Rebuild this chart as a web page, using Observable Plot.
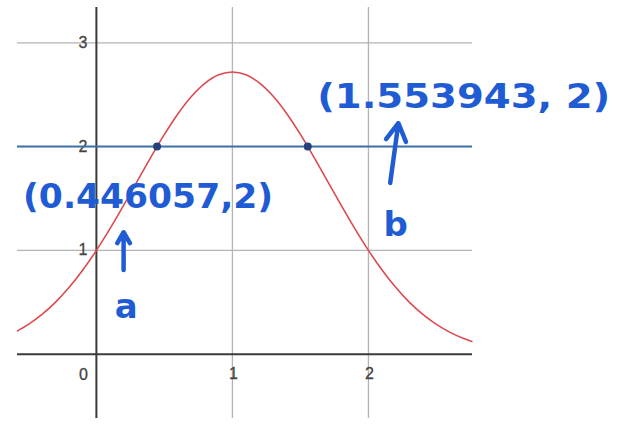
<!DOCTYPE html>
<html>
<head>
<meta charset="utf-8">
<script src="https://cdn.jsdelivr.net/npm/d3@7"></script>
<script src="https://cdn.jsdelivr.net/npm/@observablehq/plot@0.6"></script>
<style>
  html, body { margin: 0; padding: 0; background: #fff; }
  #chart svg { display: block; overflow: visible; }
</style>
</head>
<body>
<div id="chart"></div>
<script>
// y = e^(2x - x^2), sampled along x
const curveX = [-0.58, -0.5, -0.4, -0.3, -0.2, -0.1, 0, 0.1, 0.2, 0.3, 0.4, 0.5, 0.6, 0.7, 0.8, 0.9,
  1.0, 1.1, 1.2, 1.3, 1.4, 1.5, 1.6, 1.7, 1.8, 1.9, 2.0, 2.1, 2.2, 2.3, 2.4, 2.5, 2.6, 2.7, 2.76];
const curveY = [0.2239, 0.2865, 0.3829, 0.5016, 0.6440, 0.8106, 1, 1.2092, 1.4333, 1.6653, 1.8965, 2.1170, 2.3164, 2.4843, 2.6117, 2.6912,
  2.7183, 2.6912, 2.6117, 2.4843, 2.3164, 2.1170, 1.8965, 1.6653, 1.4333, 1.2092, 1, 0.8106, 0.6440, 0.5016, 0.3829, 0.2865, 0.2101, 0.1511, 0.1227];

// horizontal line y = 2 and its two intersections with the curve
const levelY = 2;
const hitX = [0.446057, 1.553943];
const hitLabels = ["(0.446057,2)", "(1.553943, 2)"];
const hitNames = ["a", "b"];

// grid and tick labels
const xTicks = [0, 1, 2];
const yTicks = [1, 2, 3];
const xDomain = [-0.58, 2.765];
const yDomain = [-0.62, 3.34];

const curve = curveX.map((x, i) => ({x, y: curveY[i]}));
const hits = hitX.map((x, i) => ({x, y: levelY, label: hitLabels[i], name: hitNames[i]}));

const ink = "#1f5bd3";
const hand = {fontFamily: "DejaVu Sans", fontWeight: "bold", fill: ink};
const tickFont = {fontFamily: "Liberation Sans", fontSize: 16, fill: "#444", stroke: "#444", strokeWidth: 0.3};

const plot = Plot.plot({
  width: 627,
  height: 425,
  marginLeft: 17,
  marginRight: 155,
  marginTop: 7,
  marginBottom: 7,
  x: {domain: xDomain, axis: null},
  y: {domain: yDomain, axis: null},
  style: {background: "#fff"},
  marks: [
    // grid
    Plot.ruleY(yTicks, {stroke: "#b4b4b4", strokeWidth: 1.3}),
    Plot.ruleX(xTicks.filter(d => d !== 0), {stroke: "#b4b4b4", strokeWidth: 1.3}),
    // axes
    Plot.ruleY([0], {stroke: "#3a3a3a", strokeWidth: 2}),
    Plot.ruleX([0], {stroke: "#3a3a3a", strokeWidth: 2}),
    // tick labels
    Plot.text(yTicks, {x: 0, y: d => d, text: d => String(d), textAnchor: "end", dx: -9, ...tickFont}),
    Plot.text(xTicks.filter(d => d !== 0), {x: d => d, y: 0, text: d => String(d), dy: 20, dx: 1, ...tickFont}),
    Plot.text(xTicks.filter(d => d === 0), {x: d => d, y: 0, text: d => String(d), dy: 21, dx: -13, ...tickFont}),
    // the curve
    Plot.line(curve, {x: "x", y: "y", stroke: "#dc4a50", strokeWidth: 1.6, curve: "catmull-rom"}),
    // y = 2
    Plot.ruleY([levelY], {stroke: "#3f72aa", strokeWidth: 2}),
    // intersections
    Plot.dot(hits, {x: "x", y: "y", r: 4, fill: "#26407e"}),
    // coordinate notes
    Plot.text(hits, {x: [0.38, 2.70], y: [1.51, 2.47], text: "label", fontSize: 33, ...hand}),
    Plot.text(hits, {x: [0.22, 2.2], y: [0.45, 1.24], text: "name", fontSize: 34, ...hand}),
    Plot.arrow(hits, {x1: [0.2, 2.16], y1: [0.81, 1.65], x2: [0.2, 2.22], y2: [1.175, 2.225],
      stroke: ink, strokeWidth: 4.5, headLength: 10, bend: 0})
  ]
});

document.getElementById("chart").appendChild(plot);

// stretch each handwritten coordinate to its span
const spans = {"(0.446057,2)": 250, "(1.553943, 2)": 293};
d3.select(plot).selectAll("text").each(function () {
  const t = this.textContent;
  if (spans[t]) {
    this.setAttribute("textLength", spans[t]);
    this.setAttribute("lengthAdjust", "spacingAndGlyphs");
  }
});
</script>
</body>
</html>
